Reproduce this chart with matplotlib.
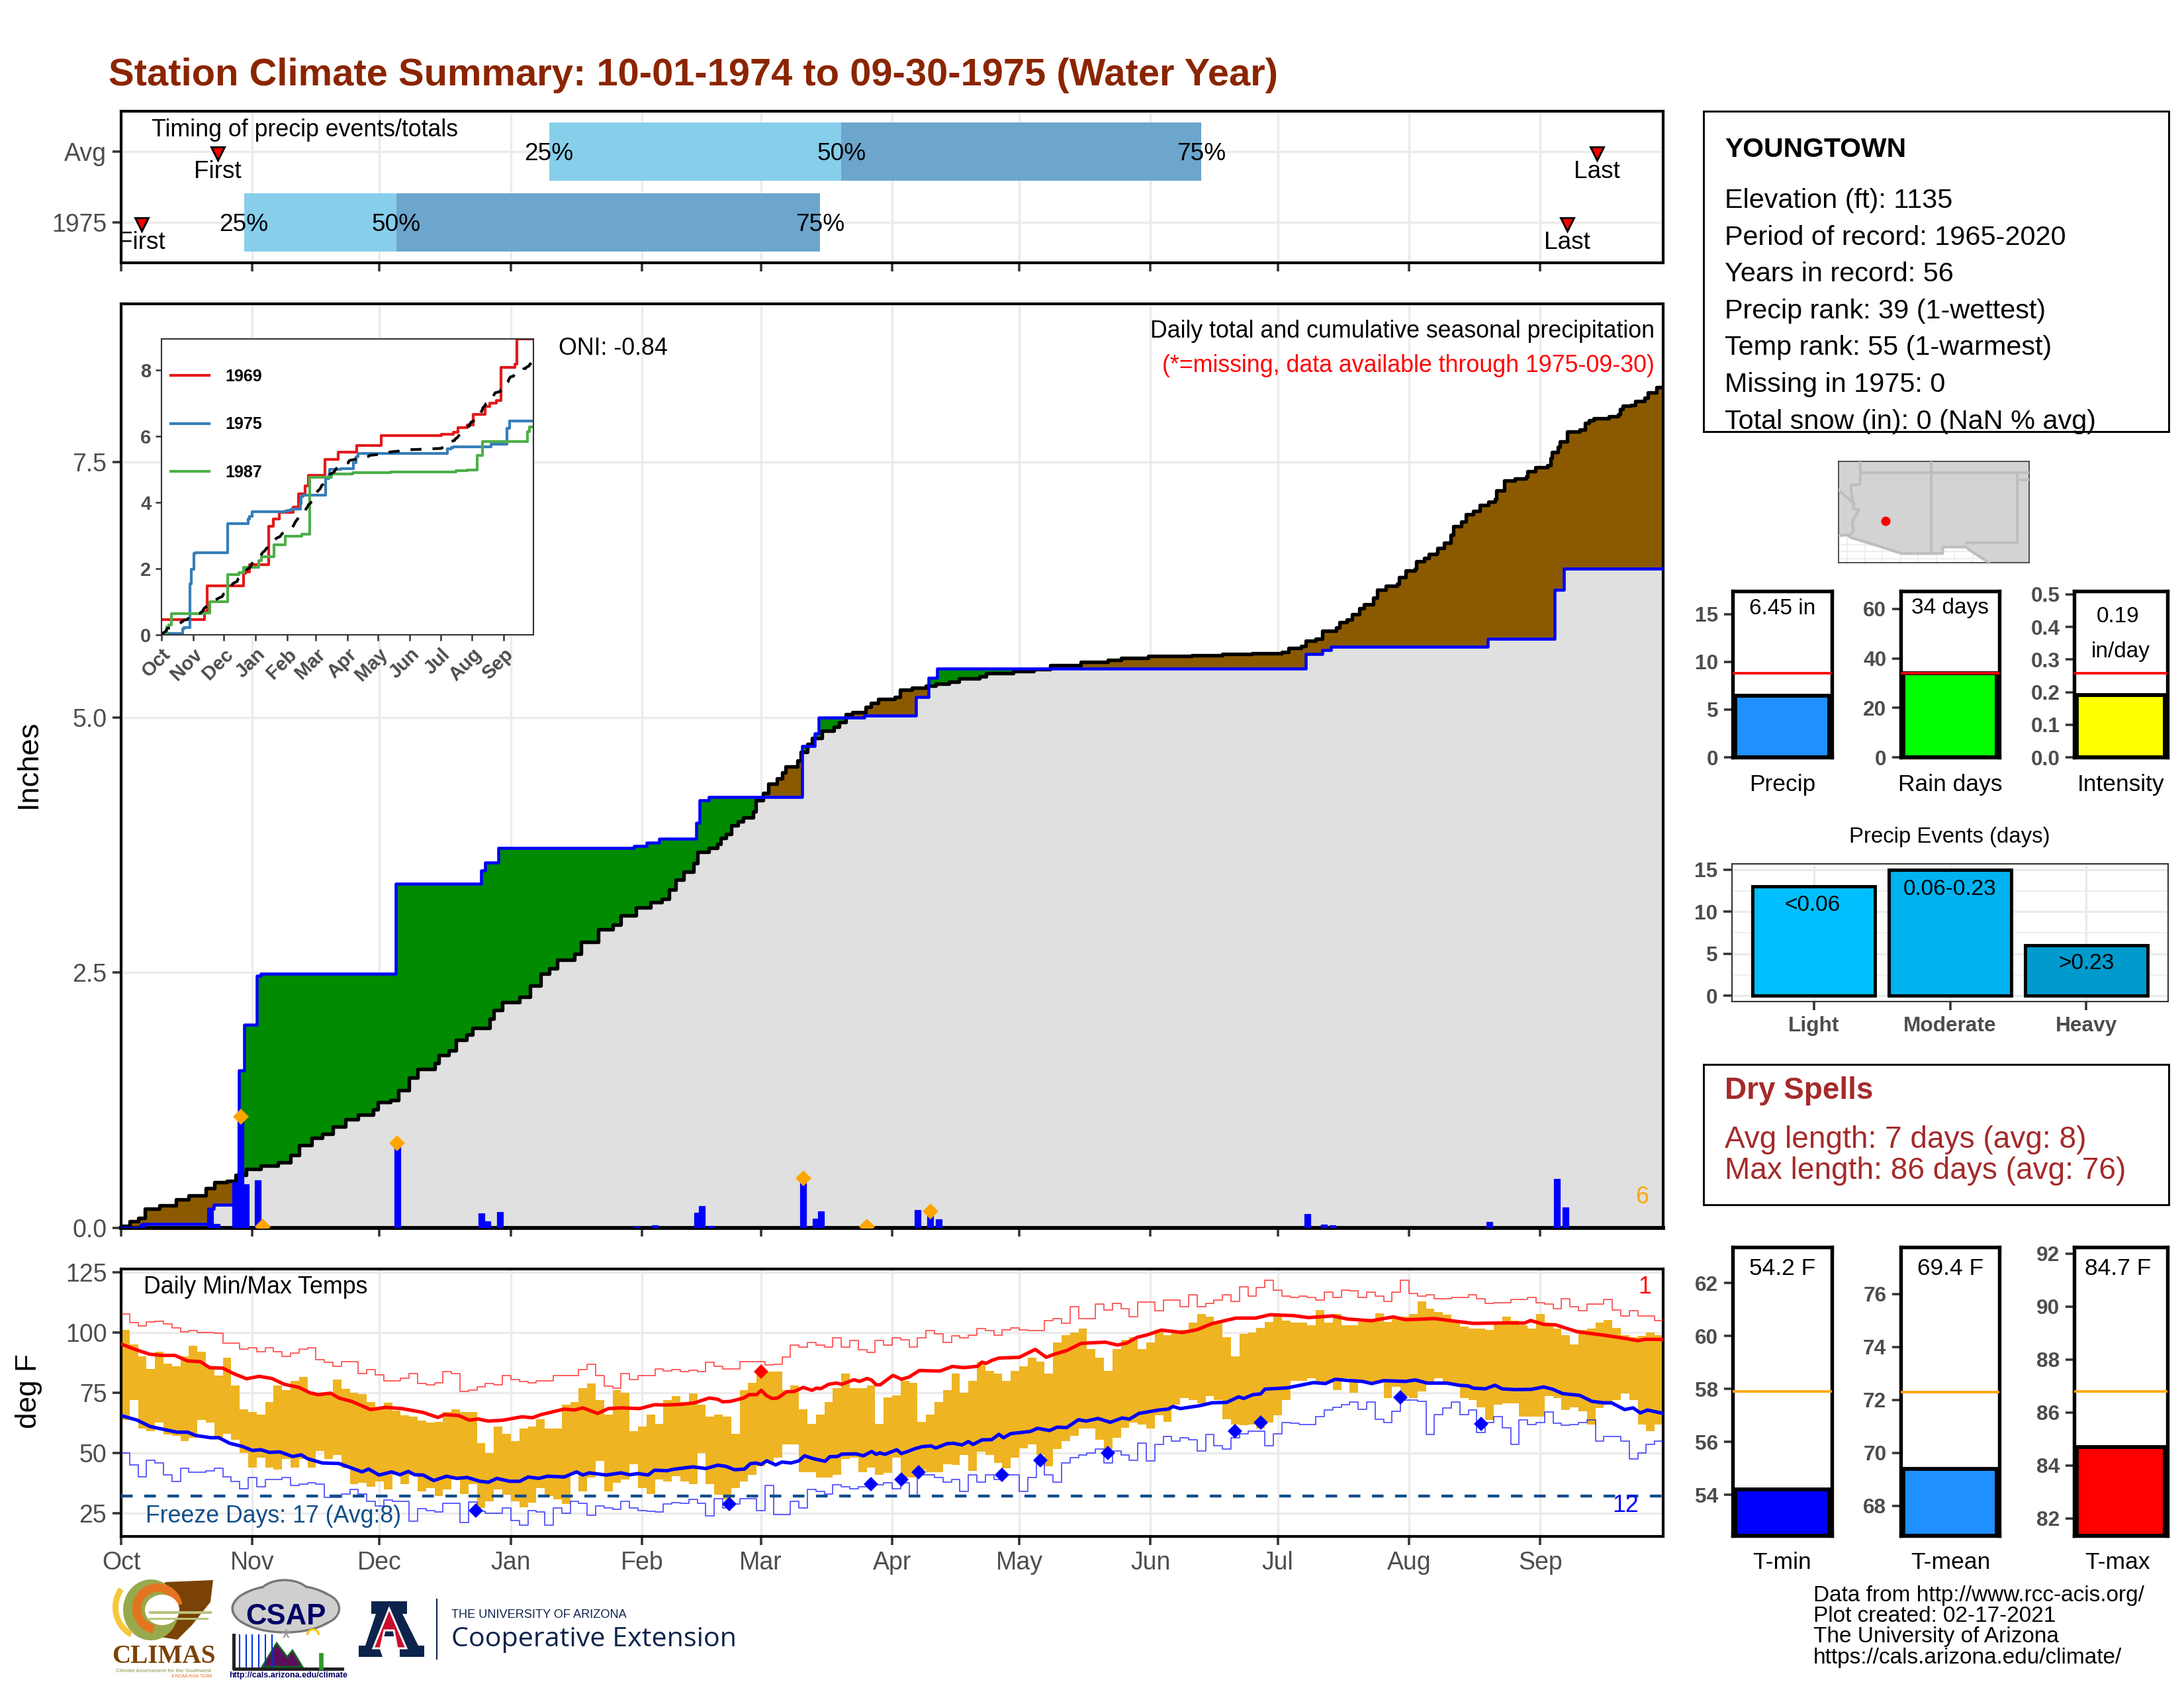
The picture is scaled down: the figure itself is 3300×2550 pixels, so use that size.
import matplotlib
matplotlib.use('Agg')
import matplotlib.pyplot as plt
from matplotlib.patches import Rectangle, Polygon, Ellipse, Wedge
import numpy as np

plt.rcParams['font.family'] = ['Liberation Sans', 'DejaVu Sans']

W, H = 3300, 2550
GRID = '#EBEBEB'
TICKC = '#333333'
LABC = '#4D4D4D'

month_days = [0, 31, 61, 92, 123, 151, 182, 212, 243, 273, 304, 335]
month_names = ['Oct', 'Nov', 'Dec', 'Jan', 'Feb', 'Mar', 'Apr', 'May', 'Jun', 'Jul', 'Aug', 'Sep']

# timing panel
timing_rows = ['Avg', '1975']
timing_25 = [101, 29]
timing_50 = [170, 65]
timing_75 = [255, 165]
timing_first = [22.8, 4.9]
timing_last = [348.4, 341.3]

# cumulative precip, average year (day, inches)
avg_days = [0, 2, 4, 5.6, 9, 13, 16, 20, 22, 25, 27, 29.5, 33, 37, 40, 42, 45, 47.5, 50, 53, 56, 59.5, 60.6, 63.6, 65.4,
            68, 70, 74, 75, 77.4, 79, 81.6, 83, 87, 88, 90, 94, 96.5, 99, 101, 103, 107, 108.5, 112.7, 116, 118, 121.6, 125,
            127.7, 129.3, 130.9, 132.8, 135.2, 136, 138.8, 140.8, 141.6, 142.8, 144, 145.6, 146.8, 149.2, 149.8, 151.6,
            152.8, 154.8, 156, 156.8, 159.6, 160.4, 162, 163.1, 165.5, 168.3, 169.5, 171, 172.7, 175.8, 177, 178.7, 182.7,
            183.9, 186.7, 189.9, 192.3, 195.4, 197.8, 202.6, 204.2, 210.6, 215.4, 219.4, 226.5, 232.9, 236, 242.5, 252.7,
            260, 267, 274, 275.6, 278.5, 279.6, 282, 283.6, 286.8, 287.6, 289.4, 290.5, 292.3, 293.4, 295.6, 296.5, 298.5,
            301.2, 301.7, 303.2, 305.4, 305.8, 307.6, 308.7, 310.5, 310.8, 312.3, 313.8, 314.5, 316.3, 317.4, 319.2, 320.7,
            322.8, 324.3, 324.7, 326.5, 329, 331.6, 332, 333.8, 336.7, 337.5, 337.8, 339.2, 339.6, 341.4, 344.3, 345.6,
            346.5, 347.6, 351.2, 353.4, 353.8, 354.5, 356.3, 357.4, 359.6, 360.4, 362.5, 364]
avg_vals = [0.02, 0.065, 0.1, 0.19, 0.22, 0.28, 0.32, 0.39, 0.445, 0.46, 0.52, 0.58, 0.61, 0.64, 0.71, 0.81, 0.88, 0.92, 0.99, 1.06, 1.11, 1.16, 1.23, 1.25, 1.35,
            1.47, 1.555, 1.615, 1.69, 1.735, 1.84, 1.89, 1.96, 2.05, 2.13, 2.21, 2.26, 2.37, 2.49, 2.54, 2.625, 2.685, 2.8, 2.925, 2.97, 3.06, 3.14, 3.19,
            3.22, 3.31, 3.41, 3.49, 3.57, 3.68, 3.72, 3.76, 3.82, 3.86, 3.94, 3.98, 4.02, 4.08, 4.19, 4.26,
            4.35, 4.40, 4.46, 4.52, 4.575, 4.66, 4.74, 4.80, 4.87, 4.91, 4.95, 5.03, 5.05, 5.10, 5.14, 5.18, 5.20,
            5.27, 5.29, 5.31, 5.33, 5.35, 5.38, 5.40, 5.43, 5.45, 5.47, 5.51, 5.54, 5.56, 5.58, 5.60, 5.61,
            5.62, 5.63, 5.64, 5.68, 5.70, 5.75, 5.77, 5.85, 5.88, 5.93, 5.96, 6.01, 6.07, 6.11, 6.17, 6.25, 6.29,
            6.31, 6.37, 6.44, 6.46, 6.53, 6.56, 6.60, 6.61, 6.66, 6.71, 6.79, 6.87, 6.92, 6.99, 7.02, 7.08,
            7.11, 7.14, 7.22, 7.32, 7.34, 7.36, 7.41, 7.45, 7.47, 7.54, 7.60, 7.65, 7.70, 7.80, 7.82, 7.88,
            7.91, 7.93, 7.95, 7.97, 8.02, 8.05, 8.06, 8.10, 8.13, 8.18, 8.23, 8.23]

# cumulative precip 1975
y75_days = [0, 5, 20.6, 21.8, 27.8, 29, 32, 33, 64.8, 85, 86, 89, 121, 124, 127, 135.7, 136.6, 138.8, 160.7, 163.7, 164.7,
            175.5, 187.6, 190.6, 192.6, 279.6, 283.6, 285.5, 322.6, 338.4, 340.5, 364]
y75_vals = [0, 0.04, 0.185, 0.23, 1.54, 1.99, 2.47, 2.49, 3.37, 3.5, 3.58, 3.72, 3.74, 3.77, 3.81, 3.97, 4.19, 4.22, 4.72, 4.84, 5.0,
            5.02, 5.20, 5.39, 5.48, 5.62, 5.66, 5.69, 5.77, 6.25, 6.46, 6.46]

# daily precip bars
rain_days = [5, 21, 22.6, 27, 28.2, 29.4, 32.3, 65.2, 85, 86.4, 89.4, 121.6, 126, 136, 137.1, 139.2, 161, 164, 165.2, 188, 191, 193, 280, 284, 286, 323, 339, 341]
rain_vals = [0.04, 0.185, 0.04, 0.45, 1.05, 0.43, 0.47, 0.83, 0.14, 0.065, 0.156, 0.015, 0.025, 0.152, 0.213, 0.022, 0.45, 0.093, 0.165, 0.173, 0.125, 0.082, 0.133, 0.035, 0.024, 0.06, 0.477, 0.204]
heavy_days = [28.2, 33.4, 65.2, 161, 176, 191]
heavy_vals = [1.09, 0.01, 0.83, 0.485, 0.01, 0.16]

# inset years
y69_days = [0, 42, 45, 80, 82, 86, 105, 109.5, 115, 129, 134, 140.5, 144, 160, 172.7, 191, 215, 274, 285.5, 290, 299, 305, 317, 321, 328, 332, 346, 348, 364]
y69_vals = [0.47, 0.71, 1.48, 1.86, 1.9, 2.13, 3.28, 3.5, 3.7, 3.87, 4.27, 4.5, 4.83, 5.3, 5.52, 5.72, 6.03, 6.07, 6.13, 6.26, 6.34, 6.67, 6.91, 7.01, 7.09, 8.09, 8.18, 8.95, 8.95]
y87_days = [0, 5.4, 7.4, 10, 42.6, 47.5, 65, 75.6, 80, 95.5, 98, 110, 121, 137, 145, 166.5, 187, 224, 288, 299, 309, 314, 358, 360, 364]
y87_vals = [0, 0.25, 0.3, 0.635, 0.66, 1.0, 1.82, 1.88, 2.04, 2.24, 2.37, 2.72, 2.99, 3.05, 4.77, 4.86, 4.91, 4.92, 4.96, 4.98, 5.42, 5.84, 6.15, 6.29, 6.29]

tmax = [101, 95, 90, 85, 92, 87, 86, 90, 94.5, 92,
        86, 82, 89.5, 78, 68, 67, 66, 71, 78, 76,
        80, 81.5, 74.5, 74, 75, 80.5, 76.5, 75, 74.5, 71,
        69, 70.8, 67.5, 65.5, 65, 63.5, 62.5, 63, 67, 68,
        67, 67, 54, 50, 61, 58, 55, 60, 61, 64,
        60, 60, 70, 71, 77, 78.8, 72, 66, 76, 75,
        59, 61, 66, 62, 72, 73.7, 71, 74.8, 70, 65,
        66, 65, 58, 76, 79, 83.8, 83.8, 83.8, 76, 78,
        68, 62, 66, 71, 77, 83, 77, 77, 78, 62,
        73, 74, 80, 79, 63, 66, 71, 76, 83, 75,
        80, 88, 84, 83, 80, 84, 86, 89.5, 88, 83,
        96, 99, 100, 101.6, 93, 89.5, 84, 93, 97, 98,
        93, 96, 101, 99, 100, 101, 104, 107.6, 106.7, 104.5,
        98, 90, 99.4, 100, 102, 104.4, 107, 105, 104, 104,
        103, 109.4, 104, 107.6, 103, 103, 104.4, 104.4, 108, 104.4,
        106, 106.7, 107.6, 113, 110, 108.5, 107.5, 104, 102.5, 101.6,
        101.6, 101, 104, 106.7, 105, 103, 101.6, 107.6, 103, 101.6,
        99, 95, 101, 101.6, 104, 105.3, 102, 99, 98, 98.5,
        100, 99, 99]
tmin = [63.6, 71.9, 60, 59, 62.7, 57.7, 57.2, 55, 56.3, 63.6,
        62.7, 56.3, 58, 55.4, 50, 44, 48, 44, 43, 47.6,
        44, 47.6, 44, 50.8, 47.6, 49, 43.5, 37, 37.5, 35.9,
        38, 34.8, 40.8, 37, 40.8, 33.9, 35.3, 32, 34.8, 38.9,
        33, 37, 27, 29.8, 34.8, 32.5, 30, 27.5, 29.3, 35.3,
        32, 30.7, 28.8, 41.7, 33.9, 39.8, 46.7, 33.9, 37.5, 38.9,
        45.3, 35.3, 33, 38.9, 38, 40.3, 38, 37, 49.9, 37,
        32.5, 30.7, 35.3, 38, 40.8, 44.4, 46.2, 48, 53.6, 53.6,
        42, 42, 39.8, 39.8, 41, 47.6, 48, 42, 44, 40.8,
        41.7, 48, 39.8, 39.8, 43, 42, 42, 45.3, 44.9, 49,
        42.6, 50.4, 49, 45.8, 43.5, 48, 52, 53.6, 49, 44.4,
        51.7, 55, 57, 60, 60, 55.4, 51.7, 56.3, 60.4, 62.7,
        61.8, 60, 65.5, 63, 70, 72.8, 72, 70.5, 73.7, 72,
        64, 61.8, 61.4, 61.8, 60, 62.7, 65.5, 72, 80, 80,
        81, 79.2, 79.2, 76, 81, 75, 79.2, 79.2, 79.2, 72.8,
        77.4, 73.7, 72.8, 75.5, 78.3, 81, 79.2, 78.3, 72.8, 72,
        69, 63.6, 70, 70.5, 70.5, 65, 65, 65, 73.7, 72.8,
        67.8, 69, 67.3, 61.8, 68.7, 70, 72, 74.6, 72, 61.8,
        59, 61.8, 62.7]
rec_high = [107.8, 104, 102.8, 104.4, 104.7, 103.5, 102, 100.3, 100.7, 100,
            100, 99.8, 95.7, 95.7, 93, 93.7, 92, 93.7, 92, 90,
            91.6, 93, 93.7, 88.8, 87.7, 86, 87.8, 88, 83, 84.7,
            82.4, 80, 80, 80.9, 82.9, 78.8, 78.3, 79, 83.8, 82.9,
            75.5, 76, 77.4, 78.8, 78.3, 82, 80.6, 79.7, 79.2, 80,
            80, 82, 82, 82, 84.7, 86.8, 82, 77.8, 76.9, 82.9,
            80.6, 82, 82, 85, 84, 84.7, 83.8, 84.2, 83.8, 87.5,
            86, 85, 85, 88, 88, 88, 86.5, 86.8, 89.7, 94.8,
            93.9, 96, 94.8, 93.9, 97.8, 93.9, 96.8, 92.9, 91.8, 96.8,
            94.8, 97.8, 96.9, 93.9, 97.8, 100.7, 99.4, 96, 98.7, 97.8,
            98.9, 101.6, 100.7, 98.9, 101.2, 102, 101.2, 100.7, 100.7, 104.9,
            105.8, 103.9, 110.8, 105.8, 105.8, 111.7, 109.4, 112, 109.9, 106.7,
            112.6, 112.6, 109, 113.6, 113.6, 110.8, 115.7, 110.8, 112.2, 113.6,
            115.8, 113, 118.9, 115, 118.6, 121.8, 117.7, 115, 114.5, 115,
            114.5, 113.6, 116.8, 114.5, 117.7, 117.2, 114.5, 116.8, 115, 113,
            116.8, 121.8, 116.3, 115, 115.8, 114, 114, 114.5, 114.7, 115.7,
            114, 112, 112.4, 112.4, 113.8, 113.8, 114.7, 112.4, 111.7, 109.9,
            114, 110.8, 109, 111.7, 111.7, 113.8, 109.4, 106.9, 109, 107,
            107, 104.9, 105.8]
rec_low = [49.9, 45, 40, 47, 45.8, 41, 38, 43.7, 42, 42,
           42.6, 43.7, 40, 38, 35, 39.8, 36, 39, 39, 39.8,
           36.5, 37, 37.5, 37, 31.6, 31.6, 32.8, 34.8, 33, 30,
           28, 30.5, 29.8, 29.8, 21.5, 26.8, 26, 25.5, 29, 29,
           21, 29.5, 25.8, 25, 25, 27, 22, 20, 26, 25.5,
           20, 27, 25, 30, 29, 24, 28, 27, 26.7, 30,
           27, 26, 25.8, 25.5, 28.7, 29.2, 29, 30.6, 29, 23.8,
           31, 27, 28.7, 30.9, 30.9, 26, 36.6, 24.3, 24.3, 30,
           27, 34.8, 34, 33, 36.8, 35.9, 35, 35.9, 37.5, 36.8,
           37.7, 35, 37.5, 32, 40.8, 40.8, 39.8, 37.8, 38.9, 33.9,
           40.8, 37.8, 40.8, 38.9, 40.8, 40.8, 33.9, 39.8, 47, 40.8,
           37.8, 45.8, 48, 49, 49.9, 51.7, 45.8, 50.8, 49, 47,
           54, 46.7, 53.6, 56.8, 55, 56.3, 55.4, 50.8, 57.7, 53,
           51.7, 56.3, 58, 59, 59, 53, 58, 62.7, 62.3, 61.8,
           61.8, 65, 67.8, 69, 70, 71, 68, 71, 64, 62.7,
           67.3, 72, 72, 71.4, 57.7, 66, 68.7, 71, 66, 67.8,
           58.6, 62.7, 65, 60.4, 53.6, 63.6, 61.8, 62.7, 66.9, 62.3,
           61.4, 61.8, 62.7, 63.6, 55, 56.8, 56.8, 55, 47.6, 49.9,
           53.6, 55, 54]

# normal max / min
nhi_days = [0, 3.3, 6.7, 9.7, 12.7, 15.7, 18.7, 20.9, 24, 26.6, 29.6, 32.6, 35.6, 38.5, 42, 44.5, 46.5, 49.5, 51.4, 54.4, 56.4, 58.9, 62.4, 66.3, 71.3, 74.8, 76.3, 79.7, 82.2, 84.2, 86.7, 90.2, 94.6, 97.1, 99.1, 102, 104.6, 107, 109, 112.5, 115, 118, 122.4, 125.9, 128.8, 132.4, 135.4, 138.8, 140.8, 142, 143.8,
            147, 148.2, 150, 151.1, 152.4, 153.7, 155, 157.1, 158.9, 161, 163.1, 164.1, 165.2, 167, 168.8, 170.1, 173, 174.3, 176.1, 177.2, 178.2, 179.2, 180.5, 182.2, 184.2, 186, 188.4, 193.3, 196.2, 199, 202.2, 203.2, 204.2, 205.5,
            207.2, 212, 215.8, 218.4, 220.3, 223.2, 226.6, 232.3, 235.2, 237.5, 239.8, 242, 245.5, 250.6, 254, 257.5, 263.2, 267.8, 271.2, 276.9, 280.3, 286, 289.5, 295.2, 300.3, 303.2, 310, 314, 319.2, 327.2, 331.2, 332.7, 335.8, 338.6, 340.9, 343.8, 350, 355.2, 358, 359.8, 364]
nhi_vals = [95.2, 93, 91, 90.5, 90.5, 88.2, 87.9, 85.4, 85.2, 82.9, 80.8, 81.8, 80.9, 78.5, 77.2, 75, 74.2, 74.8, 72.8, 71.4, 69.9, 68, 68.9, 68.4, 66.8, 64.7, 65.9, 65.5, 63.6, 64.1, 63.2, 63.6, 65, 64.6, 65.9, 67.1, 68.2, 67.8, 68.7, 66.4, 68.4, 68.7, 68.4, 70, 69.9, 70.2, 70.8, 72.8, 72.3, 71.2, 71.4,
            72.8, 74.2, 74.2, 76, 73.7, 72.6, 72.8, 75.4, 75.5, 77.2, 76, 76.9, 76.7, 78.5, 79, 78.5, 80.4, 79.7, 80.9, 80.2, 78.3, 78.3, 80, 82.2, 80.6, 81.5, 84.2, 84, 85.9, 85.4, 86, 87.7, 87.2, 88.4,
            89.4, 89.7, 93, 89.7, 91, 92.5, 95.5, 96, 94.8, 95.7, 98, 98.9, 101, 100, 101.2, 103.7, 106, 106, 107.4, 107, 106.2, 106.9, 105.6, 104.9, 106.5, 105.3, 105.8, 104.9, 103.8, 104, 103.9, 105, 103.4, 103.2, 101.9, 100.3, 98.9, 97.5, 96.6, 97.2, 97.1]
nlo_days = [0, 3.8, 6.8, 10.7, 13.2, 15.7, 17.7, 21.2, 23.1, 25.6, 28.6, 31, 33, 35, 37.5, 40.5, 42.5, 44, 47.5, 51.4, 53.9, 56.9, 58.4, 60.9, 63.9, 65.8, 67.8, 69.3, 71.3, 73.8, 76.8, 79.2, 81.7, 84.7, 86.7, 88.7, 91.7, 94.1, 96.1, 98.6, 100.6, 104.6, 107.5, 109, 110.5, 114.5, 118, 120, 122, 124.4, 125.9, 128.9, 130.4, 135, 138, 140.8, 142.8, 144.8, 147.2,
            148.5, 149.8, 151.1, 152.4, 154.5, 156, 158.1, 160, 161.3, 163.4, 166.2, 167.3, 169.1, 170.1, 173.5, 175.2, 177.2, 178.2, 179.1, 180.3, 183.1, 184.2, 186, 187.3, 189.1, 191.2, 192.3, 194.9, 196.4, 198.5, 200, 201.1, 203.2, 205.5,
            207.2, 208.3, 210, 214.6, 216.3, 219.2, 220.9, 223.2, 226, 227.8, 230.6, 233.5, 236.3, 238, 240.3, 244.9, 247.2, 248.3, 250, 254.6, 257.5, 261, 263.8, 265, 267.2, 269, 270, 275.2, 281.5, 284.3, 286.6, 289.5, 293, 295.2, 298, 303.2, 305.5, 308.3, 312.9, 315.8, 318, 319.2, 322, 324.3, 326, 329, 332.9, 335.8, 338, 340.3, 342.6, 344.3, 347.2, 350, 351.8, 354.9, 356.9, 358.6, 360.3, 364]
nlo_vals = [65.5, 63.6, 61, 59.5, 58.6, 58.6, 57.2, 56.3, 56.3, 54, 52.7, 51, 51.3, 50.2, 50.4, 48.5, 49.2, 47.6, 45.8, 45.6, 44, 42.1, 43.3, 40.8, 42.1, 40.9, 42.3, 40.9, 40.8, 38.5, 40.3, 39.4, 39.8, 38.2, 37.8, 39.4, 38.2, 38.2, 40, 39.4, 40.3, 40, 42.1, 40.8, 41.7, 40.8, 41.7, 40.9, 41.4, 40.8, 42.8, 42.6, 43.2, 44.2, 43.5, 44.9, 44.4, 43, 43.3,
            45.5, 45.8, 45.2, 46.7, 45, 46.2, 45.8, 46.7, 48.8, 47.6, 46.5, 48.4, 48.5, 49.5, 49.6, 48.8, 50.6, 49.4, 50, 49.4, 51.3, 49.7, 50.8, 51.7, 52.6, 52.9, 52, 53.8, 54, 53.3, 54.7, 53.5, 55.4, 55.5,
            57.7, 56.3, 58, 58.9, 60.2, 59.3, 60.7, 60.5, 63.8, 63.2, 64.3, 62.7, 64.5, 64, 66.4, 67.8, 68.2, 69.3, 68.4, 69.6, 70.8, 71, 73.3, 72.6, 74.2, 74.5, 76.5, 77, 79.2, 78.8, 80.6, 80.1, 79.7, 78.8, 80, 79.7, 80.3, 79, 79, 78.1, 77.8, 76.9, 76.6, 78.1, 76.6, 76.3, 76.4, 77.4, 76.4, 74.6, 74.2, 73.9, 71.4, 70.8, 70.8, 68, 68.7, 66.6, 67.8, 66.4]
low_mark_days = [83.7, 143.5, 177, 184.2, 188.2, 208, 217, 232.9, 263, 269, 302, 321]
low_mark_vals = [26.1, 28.8, 36.9, 38.9, 42, 40.9, 46.9, 49.9, 58.9, 62.7, 73, 62]
high_mark_days = [151.1]
high_mark_vals = [83.8]
freeze_line = 32

# summary bars
precip_val, precip_avg = 6.45, 8.77
raindays_val, raindays_avg = 34, 33.9
intensity_val, intensity_avg = 0.19, 0.2575
event_labels = ['Light', 'Moderate', 'Heavy']
event_vals = [13, 15, 6]
event_text = ['<0.06', '0.06-0.23', '>0.23']
event_cols = ['#00BFFF', '#00B2EE', '#009ACD']
tmin_val, tmin_avg = 54.2, 57.9
tmean_val, tmean_avg = 69.4, 72.3
tmax_val, tmax_avg = 84.7, 86.8

info_lines = ['Elevation (ft): 1135', 'Period of record: 1965-2020', 'Years in record: 56',
              'Precip rank: 39 (1-wettest)', 'Temp rank: 55 (1-warmest)', 'Missing in 1975: 0',
              'Total snow (in): 0 (NaN % avg)']

# map, lon/lat
land_lon = [-115.6, -114.88, -114.76, -112.55, -111.16, -108.25, -108.25, -106.62, -106.27, -105, -102.16, -102.16, -115.6]
land_lat = [32.53, 32.58, 32.4, 31.72, 31.26, 31.26, 31.72, 31.72, 31.45, 30.61, 30.61, 37.8, 37.8]
az_west_lon = [-114.07, -114.07, -114.76, -114.53, -114.18, -114.65, -114.53, -114.88]
az_west_lat = [37.8, 36.18, 36.1, 34.46, 34.33, 33.5, 32.85, 32.5]
ca_nv_lon = [-115.6, -114.53]
ca_nv_lat = [35.77, 34.8]
station_lon, station_lat = -112.3, 33.56


def ax_px(l, t, r, b):
    return fig.add_axes([l / W, 1 - b / H, (r - l) / W, (b - t) / H])


def time_axis(ax, labels=False):
    ax.set_xlim(0, 364)
    ax.set_xticks(month_days)
    ax.set_xticklabels(month_names if labels else [])
    ax.grid(True, color=GRID, lw=0.8)
    ax.set_axisbelow(True)
    ax.tick_params(colors=TICKC, labelcolor=LABC, width=0.85, length=3.2, labelsize=9, pad=2)
    for s in ax.spines.values():
        s.set_linewidth(1.0)


def step_on(grid, days, vals):
    return np.asarray(vals)[np.searchsorted(days, grid, side='right') - 1]


def small_bar(ax, val, ref, ylim, ticks, col, refcol, labels=None):
    ax.set_xlim(-0.5, 0.5)
    ax.set_ylim(*ylim)
    ax.bar(0, val - ylim[0], bottom=ylim[0], width=0.95, color=col, edgecolor='black', lw=1.4)
    ax.axhline(ref, color=refcol, lw=0.9, zorder=3)
    ax.set_xticks([])
    ax.set_yticks(ticks)
    if labels:
        ax.set_yticklabels(labels)
    ax.tick_params(axis='y', colors=TICKC, labelcolor=LABC, width=0.85, length=3.2, labelsize=7.6, pad=2)
    for t in ax.get_yticklabels():
        t.set_fontweight('bold')
    for s in ax.spines.values():
        s.set_linewidth(1.3)


fig = plt.figure(figsize=(11, 8.5), dpi=300)

# timing panel
ax_t = ax_px(183, 168, 2513, 397)
time_axis(ax_t)
ax_t.set_ylim(0.43, 2.57)
ax_t.set_yticks([2, 1])
ax_t.set_yticklabels(timing_rows)
rows_y = [2, 1]
for i, y in enumerate(rows_y):
    ax_t.barh(y, timing_50[i] - timing_25[i], left=timing_25[i], height=0.83, color='#87CEEB', zorder=2)
    ax_t.barh(y, timing_75[i] - timing_50[i], left=timing_50[i], height=0.83, color='#6CA6CD', zorder=2)
    for d, s in zip([timing_25[i], timing_50[i], timing_75[i]], ['25%', '50%', '75%']):
        ax_t.text(d, y - 0.035, s, ha='center', va='center', fontsize=8.9, zorder=4)
    ax_t.plot([timing_first[i], timing_last[i]], [y - 0.03, y - 0.03], ls='', marker='v', ms=5,
              mfc='red', mec='black', mew=0.7, zorder=4)
    ax_t.text(timing_first[i], y - 0.285, 'First', ha='center', va='center', fontsize=8.9, zorder=4)
    ax_t.text(timing_last[i], y - 0.285, 'Last', ha='center', va='center', fontsize=8.9, zorder=4)

# main cumulative panel
ax_m = ax_px(183, 459, 2513, 1855)
time_axis(ax_m)
ax_m.set_ylim(0, 9.05)
ax_m.set_yticks([0, 2.5, 5, 7.5])
ax_m.set_yticklabels(['0.0', '2.5', '5.0', '7.5'])
days_all = np.union1d(avg_days, y75_days)
avg_s = step_on(days_all, avg_days, avg_vals)
y75_s = step_on(days_all, y75_days, y75_vals)
top_s = np.maximum(avg_s, y75_s)
ax_m.fill_between(days_all, 0, np.minimum(avg_s, y75_s), step='post', color='#E0E0E0', lw=0, zorder=1.5)
ax_m.fill_between(days_all, avg_s, top_s, step='post', color='#008B00', lw=0, zorder=1.5)
ax_m.fill_between(days_all, y75_s, top_s, step='post', color='#8B5A00', lw=0, zorder=1.5)
ax_m.step(avg_days, avg_vals, where='post', color='black', lw=1.3, zorder=2)
ax_m.step(y75_days, y75_vals, where='post', color='blue', lw=1.1, zorder=3)
ax_m.bar(rain_days, rain_vals, width=1.4, color='blue', edgecolor='blue', lw=0.3, zorder=3)
ax_m.plot(heavy_days, heavy_vals, ls='', marker='D', ms=4, color='orange', mew=0, zorder=4)
ax_m.spines['bottom'].set_linewidth(1.4)

# inset
ax_i = ax_px(244, 512, 806, 959)
ax_i.set_facecolor('white')
ax_i.set_zorder(5)
ax_i.set_xlim(0, 364)
ax_i.set_ylim(0, 8.95)
ax_i.step(y69_days, y69_vals, where='post', color='#E41A1C', lw=1.0, label='1969')
ax_i.step(y75_days, y75_vals, where='post', color='#377EB8', lw=1.0, label='1975')
ax_i.step(y87_days, y87_vals, where='post', color='#4DAF4A', lw=1.0, label='1987')
ax_i.plot(avg_days, avg_vals, color='black', lw=1.0, ls=(0, (4, 4)))
ax_i.set_xticks(month_days)
ax_i.set_xticklabels(month_names, rotation=45, ha='right', rotation_mode='anchor', fontweight='bold')
ax_i.set_yticks([0, 2, 4, 6, 8])
ax_i.tick_params(colors=TICKC, labelcolor=LABC, width=0.6, length=2.2, labelsize=7, pad=1.5)
for t in ax_i.get_yticklabels():
    t.set_fontweight('bold')
for s in ax_i.spines.values():
    s.set_linewidth(0.5)
    s.set_color('#333333')
leg = ax_i.legend(loc='upper left', bbox_to_anchor=(0.025, 0.9), frameon=False, borderpad=0, borderaxespad=0,
                  handlelength=2.3, handletextpad=1.0, labelspacing=1.95,
                  prop={'size': 6, 'weight': 'bold'})

# temperature panel
ax_d = ax_px(183, 1917, 2513, 2321)
time_axis(ax_d, labels=True)
ax_d.set_ylim(15.3, 126.4)
ax_d.set_yticks([25, 50, 75, 100, 125])
temp_days = np.arange(len(tmax)) * 2
ax_d.bar(temp_days, np.array(tmax) - np.array(tmin), bottom=tmin, width=2, align='edge', color='#EEB422', lw=0, zorder=2)
ax_d.step(np.arange(len(rec_high)) * 2, rec_high, where='post', color='red', lw=0.45, alpha=0.65, zorder=3)
ax_d.step(np.arange(len(rec_low)) * 2, rec_low, where='post', color='blue', lw=0.45, alpha=0.65, zorder=3)
ax_d.plot(nhi_days, nhi_vals, color='red', lw=1.25, zorder=4)
ax_d.plot(nlo_days, nlo_vals, color='blue', lw=1.25, zorder=4)
ax_d.axhline(freeze_line, color='#104E8B', lw=1.05, ls=(0, (4, 4)), zorder=4)
ax_d.plot(low_mark_days, low_mark_vals, ls='', marker='D', ms=3.6, color='blue', mew=0, zorder=5)
ax_d.plot(high_mark_days, high_mark_vals, ls='', marker='D', ms=3.6, color='red', mew=0, zorder=5)

# map
ax_g = ax_px(2778, 697, 3066, 850)
ax_g.set_xlim(-115.6, -102.16)
ax_g.set_ylim(30.61, 37.8)
ax_g.set_xticks([-114.98, -113.74, -112.5, -111.2, -110, -108.7, -107.45, -106.15])
ax_g.set_yticks([30.9, 31.4, 31.9])
ax_g.grid(True, color=GRID, lw=0.4)
ax_g.set_axisbelow(True)
ax_g.tick_params(length=0, labelbottom=False, labelleft=False)
border = {'color': '#BEBEBE', 'lw': 1.0, 'zorder': 3}
ax_g.fill(land_lon, land_lat, color='#D3D3D3', lw=0, zorder=2)
ax_g.plot(land_lon[:10], land_lat[:10], **border)
ax_g.plot(az_west_lon, az_west_lat, **border)
ax_g.plot(ca_nv_lon, ca_nv_lat, **border)
ax_g.plot([-114.07, -102.16], [37, 37], **border)
ax_g.plot([-109.05, -109.05], [37.8, 31.33], **border)
ax_g.plot([-103, -103, -106.6], [37, 32, 32], **border)
ax_g.plot([-103, -102.16], [36.5, 36.5], **border)
ax_g.plot(station_lon, station_lat, ls='', marker='o', ms=3.4, color='red', mew=0, zorder=4)
for s in ax_g.spines.values():
    s.set_linewidth(0.4)
    s.set_color('#333333')

# small bars
ax_p = ax_px(2618, 893, 2768, 1144)
small_bar(ax_p, precip_val, precip_avg, (0, 17.4), [0, 5, 10, 15], '#1E90FF', 'red')
ax_r = ax_px(2872, 893, 3021, 1144)
small_bar(ax_r, raindays_val, raindays_avg, (0, 67.2), [0, 20, 40, 60], '#00FF00', 'red')
ax_n = ax_px(3134, 893, 3275, 1144)
small_bar(ax_n, intensity_val, intensity_avg, (0, 0.51), [0, 0.1, 0.2, 0.3, 0.4, 0.5], '#FFFF00', 'red',
          labels=['0.0', '0.1', '0.2', '0.3', '0.4', '0.5'])

# precip events
ax_e = ax_px(2617, 1305, 3276, 1513)
ax_e.set_xlim(0.4, 3.6)
ax_e.set_ylim(-0.68, 15.7)
ax_e.set_yticks([0, 5, 10, 15])
ax_e.set_yticks([2.5, 7.5, 12.5], minor=True)
ax_e.set_xticks([1, 2, 3])
ax_e.set_xticklabels(event_labels, fontweight='bold')
ax_e.grid(True, which='major', color=GRID, lw=0.8)
ax_e.grid(True, which='minor', axis='y', color=GRID, lw=0.4)
ax_e.set_axisbelow(True)
ax_e.bar([1, 2, 3], event_vals, width=0.9, color=event_cols, edgecolor='black', lw=1.2, zorder=2)
ax_e.tick_params(axis='both', which='major', colors=TICKC, labelcolor=LABC, width=0.85, length=3.2, labelsize=7.6, pad=2)
ax_e.tick_params(axis='both', which='minor', length=0)
for t in ax_e.get_yticklabels():
    t.set_fontweight('bold')
for s in ax_e.spines.values():
    s.set_linewidth(0.5)
    s.set_color('#333333')

# temperature summary
ax_a = ax_px(2618, 1884, 2768, 2320)
small_bar(ax_a, tmin_val, tmin_avg, (52.46, 63.35), [54, 56, 58, 60, 62], 'blue', 'orange')
ax_b = ax_px(2872, 1884, 3021, 2320)
small_bar(ax_b, tmean_val, tmean_avg, (66.87, 77.77), [68, 70, 72, 74, 76], '#1E90FF', 'orange')
ax_c = ax_px(3134, 1884, 3275, 2320)
small_bar(ax_c, tmax_val, tmax_avg, (81.35, 92.24), [82, 84, 86, 88, 90, 92], 'red', 'orange')

# everything placed on the page itself
page = fig.add_axes([0, 0, 1, 1])
page.set_xlim(0, W)
page.set_ylim(H, 0)
page.axis('off')
page.set_zorder(10)


def txt(x, y, s, size=8.5, color='black', ha='left', va='center', **kw):
    if 'rotation' not in kw:
        y = y + 4
    page.text(x, y, s, fontsize=size, color=color, ha=ha, va=va, **kw)


txt(164, 110, 'Station Climate Summary: 10-01-1974 to 09-30-1975 (Water Year)', size=13.9, color='#8B2500', fontweight='bold')
txt(229, 193, 'Timing of precip events/totals', size=8.6)
txt(2500, 497, 'Daily total and cumulative seasonal precipitation', size=8.6, ha='right')
txt(2500, 549, '(*=missing, data available through 1975-09-30)', size=8.6, color='red', ha='right')
txt(844, 523, 'ONI: -0.84', size=8.6)
txt(2481, 1805, '6', size=8.6, color='orange', ha='center')
txt(43, 1154, 'Inches', size=10.9, ha='center', rotation=90)
txt(43, 2102, 'deg F', size=10.6, ha='center', rotation=90)
txt(217, 1940, 'Daily Min/Max Temps', size=8.6)
txt(220, 2287, 'Freeze Days: 17 (Avg:8)', size=8.6, color='#104E8B')
txt(2485, 1941, '1', size=8.6, color='red', ha='center')
txt(2456, 2270, '12', size=8.6, color='blue', ha='center')

# info box
page.add_patch(Rectangle((2574, 168), 703, 484, fc='none', ec='black', lw=0.7))
txt(2606, 222, 'YOUNGTOWN', size=9.8, fontweight='bold')
for i, line in enumerate(info_lines):
    txt(2606, 299 + i * 55.6, line, size=9.95)

# dry spells box
page.add_patch(Rectangle((2574, 1608), 703, 212, fc='none', ec='black', lw=0.7))
txt(2606, 1644, 'Dry Spells', size=11, color='#A52A2A', fontweight='bold')
txt(2606, 1718, 'Avg length: 7 days (avg: 8)', size=11.05, color='#A52A2A')
txt(2606, 1765, 'Max length: 86 days (avg: 76)', size=11.05, color='#A52A2A')

# labels around the small bars
txt(2693, 915, '6.45 in', size=8, ha='center')
txt(2946, 915, '34 days', size=8, ha='center')
txt(3200, 928, '0.19', size=8, ha='center')
txt(3204, 980, 'in/day', size=8, ha='center')
txt(2693, 1181, 'Precip', size=8.5, ha='center')
txt(2947, 1181, 'Rain days', size=8.5, ha='center')
txt(3205, 1181, 'Intensity', size=8.5, ha='center')
txt(2946, 1261, 'Precip Events (days)', size=7.9, ha='center')
txt(2739, 1363, event_text[0], size=8, ha='center')
txt(2946, 1339, event_text[1], size=8, ha='center')
txt(3153, 1452, event_text[2], size=8, ha='center')
txt(2693, 1912, '54.2 F', size=8.5, ha='center')
txt(2947, 1912, '69.4 F', size=8.5, ha='center')
txt(3200, 1912, '84.7 F', size=8.5, ha='center')
txt(2693, 2357, 'T-min', size=8.5, ha='center')
txt(2947, 2357, 'T-mean', size=8.5, ha='center')
txt(3200, 2357, 'T-max', size=8.5, ha='center')
for yy, line in zip([2406, 2437, 2469, 2500],
                    ['Data from http://www.rcc-acis.org/', 'Plot created: 02-17-2021',
                     'The University of Arizona', 'https://cals.arizona.edu/climate/']):
    txt(2740, yy, line, size=8.03)

# logos, CLIMAS
page.add_patch(Polygon([(250, 2390), (322, 2387), (318, 2420), (290, 2455), (268, 2477), (225, 2470), (205, 2440)], fc='#7A4205', ec='none'))
page.add_patch(Ellipse((228, 2432), 84, 92, fc='#98A94B', ec='none'))
page.add_patch(Wedge((238, 2430), 38, 100, 350, width=13, fc='#E4741F', ec='none'))
page.add_patch(Ellipse((245, 2432), 52, 46, fc='white', ec='none'))
page.add_patch(Wedge((222, 2428), 52, 120, 215, width=9, fc='#F5C83C', ec='none'))
page.add_patch(Rectangle((225, 2434), 95, 4, fc='#B9C47A', ec='none'))
page.add_patch(Rectangle((225, 2444), 90, 3, fc='#B9C47A', ec='none'))
txt(247, 2498, 'CLIMAS', size=9.4, color='#7A4205', ha='center', family=['Liberation Serif'], fontweight='bold')
txt(247, 2520, 'Climate Assessment for the Southwest', size=2.0, color='#7F9A47', ha='center')
txt(290, 2529, 'A NOAA RISA TEAM', size=1.6, color='#E4741F', ha='center')

# logos, CSAP
for cx, cy, w, h in [(431, 2430, 160, 72), (430, 2410, 78, 46), (380, 2430, 55, 48), (480, 2430, 65, 48)]:
    page.add_patch(Ellipse((cx, cy), w, h, fc='#CFCFCF', ec='#777777', lw=0.8))
for cx, cy, w, h in [(431, 2430, 156, 68), (430, 2412, 74, 44), (380, 2430, 51, 44), (480, 2430, 61, 44)]:
    page.add_patch(Ellipse((cx, cy), w, h, fc='#CFCFCF', ec='none'))
txt(432, 2438, 'CSAP', size=10.5, color='#000066', ha='center', fontweight='bold')
page.plot([353, 353, 517], [2470, 2521, 2521], color='#222222', lw=1.2)
for xv in [362, 372, 381, 391, 401, 411]:
    page.plot([xv, xv], [2470, 2518], color='#0033DD', lw=0.5)
page.add_patch(Polygon([(396, 2518), (418, 2482), (434, 2503), (442, 2493), (457, 2518)], fc='#5B0F5B', ec='#0B6B1B', lw=0.6))
page.add_patch(Wedge((473, 2470), 10, 180, 360, width=3, fc='#F5C400', ec='none'))
txt(432, 2473, '*', size=9, color='#999999', ha='center')
page.plot([485, 485], [2500, 2519], color='#2E9A2E', lw=1.6)
txt(436, 2527, 'http://cals.arizona.edu/climate', size=3.0, color='#000066', ha='center', fontweight='bold')

# logos, University of Arizona
page.add_patch(Polygon([(561, 2419), (615, 2419), (615, 2438), (608, 2438), (632, 2486), (641, 2486), (641, 2503), (604, 2503), (604, 2486),
                        (598, 2472), (578, 2472), (572, 2486), (578, 2503), (542, 2503), (542, 2486), (552, 2486), (568, 2438), (561, 2438)],
                       fc='#0C234B', ec='none'))
page.add_patch(Polygon([(588, 2430), (614, 2490), (600, 2490), (595, 2463), (581, 2463), (575, 2490), (564, 2490)], fc='#C8102E', ec='white', lw=0.7))
page.plot([660, 660], [2416, 2506], color='#0C234B', lw=0.5)
txt(682, 2436, 'THE UNIVERSITY OF ARIZONA', size=4.35, color='#0C234B')
txt(682, 2473, 'Cooperative Extension', size=9.9, color='#0C234B', family=['Open Sans'])

fig.savefig('out.png', dpi=300)
